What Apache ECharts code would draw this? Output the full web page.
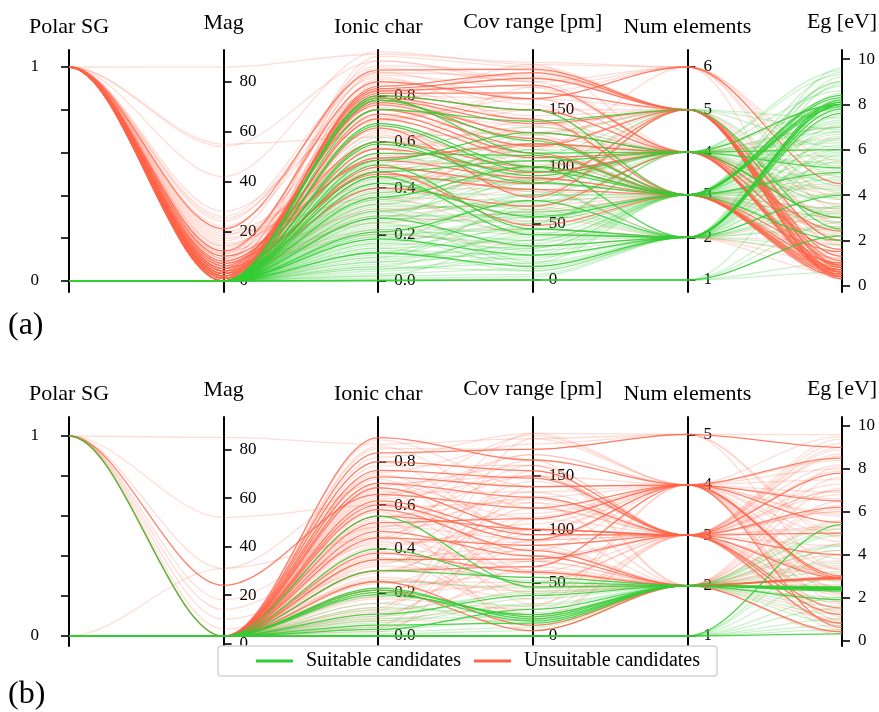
<!DOCTYPE html>
<html><head><meta charset="utf-8">
<script src="https://cdn.jsdelivr.net/npm/echarts@6/dist/echarts.min.js"></script>
<style>html,body{margin:0;padding:0;background:#fff}#c{width:879px;height:712px}</style>
</head><body><div id="c"></div>
<script>
// ---------------- data ----------------
const dimensions = ['Polar SG', 'Mag', 'Ionic char', 'Cov range [pm]', 'Num elements', 'Eg [eV]'];
const polarTicks = [0, 0.2, 0.4, 0.6, 0.8, 1];
const polarLabels = [0, 1];
const magTicks = [0, 20, 40, 60, 80];
const ionicTicks = [0, 0.2, 0.4, 0.6, 0.8];
const covTicks = [0, 50, 100, 150];
const numTicksA = [1, 2, 3, 4, 5, 6];
const numTicksB = [1, 2, 3, 4, 5];
const egTicks = [0, 2, 4, 6, 8, 10];

// rows: [Polar SG, Mag, Ionic char, Cov range, Num elements, Eg]
const unsuitableStrongA = [
  [1,0,0.84,183,5,0.4],[1,1,0.83,178,5,0.6],[1,2,0.82,172,4,0.9],[1,3,0.81,165,5,0.3],
  [1,1,0.80,150,4,0.5],[1,5,0.79,142,3,0.8],[1,0,0.78,138,5,1.1],[1,2,0.77,130,4,1.6],
  [1,4,0.76,125,3,0.6],[1,6,0.74,118,5,2.0],[1,0,0.72,112,3,0.4],[1,3,0.70,108,4,0.7],
  [1,21,0.91,186,5,1.3],[1,8,0.60,100,3,1.0],[1,2,0.57,95,4,3.0],[1,10,0.52,90,3,0.5],
  [1,1,0.49,85,5,0.8],[1,5,0.46,80,3,1.5],[1,3,0.40,65,4,0.6],[1,12,0.86,160,6,4.5],
  [1,0,0.66,73,5,0.9],[1,7,0.53,120,4,2.4],[1,4,0.47,48,3,0.7]
];
const unsuitableFaintA = [
  [1,86,0.98,192,6,4.8],[1,55,0.62,130,5,3.5],[1,54,0.95,175,4,6.0],[1,42,0.99,190,6,5.2],
  [1,26,0.90,160,5,2.8],[1,24,0.88,140,4,3.2],[1,18,0.93,185,5,1.8],[1,16,0.72,150,3,2.5],
  [1,14,0.65,120,4,4.0],[1,12,0.42,110,3,1.2],[1,10,0.35,95,5,0.9],[1,9,0.30,80,2,2.0],
  [1,8,0.58,170,6,3.8],[1,7,0.25,60,3,0.6],[1,6,0.22,45,2,1.4],[1,5,0.97,188,5,0.5],
  [1,4,0.85,100,4,0.4],[1,3,0.68,75,5,1.0],[1,2,0.55,140,3,0.7],[1,1,0.44,135,4,2.2],
  [1,0,0.38,120,5,0.3],[1,20,0.50,105,3,3.0],[1,22,0.80,160,4,0.8],[1,28,0.75,115,6,5.5],
  [1,15,0.47,55,2,1.0],[1,11,0.63,88,4,1.6],[1,13,0.78,130,5,0.5],[1,3,0.28,70,3,2.6],
  [1,2,0.33,90,4,1.1],[1,6,0.90,180,5,0.6],[1,1,0.87,155,3,0.9],[1,4,0.83,145,5,1.3],
  [1,9,0.71,125,4,3.6],[1,5,0.60,112,3,0.4],[1,7,0.52,98,5,2.0],[1,0,0.45,92,4,0.7],
  [1,8,0.40,85,3,4.4],[1,10,0.77,190,4,1.9],[1,12,0.69,165,6,0.8],[1,3,0.95,178,5,2.7],
  [1,17,0.57,62,3,5.0],[1,19,0.36,40,2,0.5],[1,2,0.79,108,3,3.4],[1,0,0.64,102,4,0.6],
  [1,5,0.74,136,5,1.0],[1,1,0.50,78,3,1.8],[1,6,0.20,30,2,3.0],[1,11,0.89,170,4,7.0],
  [1,4,0.31,66,3,0.3],[1,3,0.60,150,5,4.1],[1,25,0.82,182,5,0.4],[1,14,0.54,118,4,2.3],
  [1,2,0.27,52,3,1.2],[1,9,0.92,175,6,3.3],[1,7,0.66,94,4,6.5],[1,0,0.80,128,3,0.5],
  [1,1,0.70,160,4,8.0]
];
const suitableStrongA = [
  [0,0,0.80,150,3,8.1],[0,0,0.79,112,4,8.0],[0,0,0.78,123,3,7.9],[0,0,0.68,100,2,8.2],
  [0,0,0.67,96,3,8.0],[0,0,0.60,92,4,6.0],[0,0,0.55,110,3,8.3],[0,0,0.50,45,2,8.0],
  [0,0,0.45,40,2,7.8],[0,0,0.36,100,3,5.0],[0,0,0.27,30,2,8.1],[0,0,0.18,22,2,4.0],
  [0,0,0.00,0,1,2.2],[0,0,0.52,130,4,3.0],[0,0,0.59,86,3,2.0],[0,0,0.42,56,3,8.4],
  [0,0,0.21,70,2,7.6],[0,0,0.12,12,2,8.0],[0,0,0.47,105,4,5.2],[0,0,0.74,140,5,2.5]
];
const suitableFaintA = [
  [0,0,0.02,5,2,6.5],[0,0,0.03,10,2,9.2],[0,0,0.05,15,3,7.0],[0,0,0.06,8,2,5.5],
  [0,0,0.08,25,3,4.5],[0,0,0.10,30,2,9.6],[0,0,0.12,18,3,6.2],[0,0,0.14,35,2,3.5],
  [0,0,0.15,45,3,8.8],[0,0,0.17,50,4,4.2],[0,0,0.19,12,2,2.5],[0,0,0.22,60,3,7.2],
  [0,0,0.24,40,2,5.0],[0,0,0.26,75,4,6.8],[0,0,0.28,55,3,3.0],[0,0,0.30,85,3,9.0],
  [0,0,0.32,65,2,4.8],[0,0,0.34,95,4,3.8],[0,0,0.36,70,3,6.0],[0,0,0.38,105,3,2.8],
  [0,0,0.40,80,2,7.5],[0,0,0.43,115,4,4.6],[0,0,0.00,0,1,1.0],[0,0,0.00,0,1,3.5],
  [0,0,0.00,0,1,5.8],[0,0,0.00,0,1,0.6],[0,0,0.00,0,1,2.8],[0,0,0.04,20,2,1.5],
  [0,0,0.07,28,3,2.0],[0,0,0.09,38,2,3.2],[0,0,0.11,48,4,5.3],[0,0,0.13,22,3,8.0],
  [0,0,0.16,58,2,6.6],[0,0,0.20,32,3,4.0],[0,0,0.23,68,4,7.8],[0,0,0.25,14,2,3.3],
  [0,0,0.29,90,3,5.6],[0,0,0.31,42,2,8.5],[0,0,0.33,100,5,4.4],[0,0,0.35,52,3,2.2],
  [0,0,0.37,120,4,6.4],[0,0,0.39,62,2,1.8],[0,0,0.41,125,3,5.1],[0,0,0.44,88,4,3.6],
  [0,0,0.48,110,5,6.9],[0,0,0.53,98,3,4.9],[0,0,0.57,135,4,3.1],[0,0,0.62,78,2,2.6],
  [0,0,0.01,3,2,4.1],[0,0,0.06,44,3,9.4],[0,0,0.18,75,3,3.9],[0,0,0.21,26,2,5.9],
  [0,0,0.27,108,4,2.4],[0,0,0.30,16,2,7.1],[0,0,0.02,35,3,5.2],[0,0,0.10,66,4,6.3],
  [0,0,0.33,60,3,9.0],[0,0,0.45,85,4,8.6],[0,0,0.38,75,3,7.7],[0,0,0.27,50,4,9.3],
  [0,0,0.51,120,4,7.0],[0,0,0.22,35,3,6.7],[0,0,0.16,28,3,8.2],[0,0,0.42,95,4,5.7],
  [0,0,0.30,70,5,6.1],[0,0,0.19,55,3,4.7],[0,0,0.25,88,4,9.5],[0,0,0.08,40,3,7.3],
  [0,0,0.35,115,3,6.8],[0,0,0.12,62,4,5.4],[0,0,0.40,100,3,4.3],[0,0,0.05,22,2,8.9],
  [0,0,0.20,45,2,6.0],[0,0,0.28,58,3,3.4],[0,0,0.47,128,5,7.4],[0,0,0.14,8,2,7.9]
];

const unsuitableStrongB = [
  [0,3,0.91,165,4,6.5],[0,3,0.76,148,3,5.0],[0,3,0.73,140,4,2.9],[0,3,0.68,100,3,7.8],
  [1,24,0.65,120,4,3.0],[0,3,0.62,95,3,2.9],[0,3,0.58,80,2,2.95],[0,3,0.45,85,3,1.2],
  [0,3,0.38,60,2,2.9],[0,3,0.30,65,4,8.5],[0,3,0.21,5,2,2.9],[0,3,0.84,175,5,9.0],
  [0,3,0.52,110,4,0.6],[0,3,0.70,130,3,4.0],[0,3,0.48,75,2,2.85],[1,3,0.80,155,3,1.5],
  [0,3,0.25,10,2,0.4],[0,3,0.60,90,4,5.5],[0,3,0.35,72,3,6.2],[0,3,0.55,100,3,0.8]
];
const unsuitableFaintB = [
  [1,85,0.88,185,5,9.6],[1,52,0.60,170,4,8.0],[0,31,0.70,150,3,7.0],[1,31,0.45,190,5,3.3],
  [1,18,0.50,130,3,6.0],[1,14,0.42,100,4,2.2],[1,10,0.30,70,2,4.5],[1,6,0.25,50,3,8.7],
  [1,3,0.35,85,2,1.0],[0,3,0.90,140,4,7.5],[0,3,0.87,120,3,6.8],[0,3,0.82,190,4,5.8],
  [0,3,0.80,95,3,9.2],[0,3,0.78,160,2,3.5],[0,3,0.75,180,5,4.8],[0,3,0.72,60,3,8.2],
  [0,3,0.70,110,4,1.8],[0,3,0.67,45,2,6.5],[0,3,0.66,135,3,2.5],[0,3,0.64,170,4,0.9],
  [0,3,0.61,75,3,7.3],[0,3,0.59,125,2,4.2],[0,3,0.57,30,3,9.4],[0,3,0.54,150,4,3.8],
  [0,3,0.51,90,3,5.2],[0,3,0.49,115,4,6.9],[0,3,0.46,40,2,0.3],[0,3,0.44,160,3,8.9],
  [0,3,0.41,105,4,2.7],[0,3,0.39,20,2,3.4],[0,3,0.37,145,3,0.5],[0,3,0.34,80,4,5.9],
  [0,3,0.32,55,2,1.4],[0,3,0.29,120,3,7.9],[0,3,0.27,35,4,4.6],[0,3,0.24,95,3,2.1],
  [0,3,0.22,60,2,6.3],[0,3,0.19,130,4,8.4],[0,3,0.17,25,3,3.1],[0,3,0.15,70,2,5.6],
  [0,3,0.13,185,4,1.1],[0,3,0.11,50,3,9.0],[0,3,0.09,100,2,4.0],[0,3,0.07,15,3,6.1],
  [0,3,0.05,140,4,2.4],[0,3,0.04,65,2,7.1],[0,3,0.02,110,3,0.7],[0,3,0.86,175,5,5.0],
  [0,3,0.63,150,3,1.7],[0,3,0.53,5,2,3.7],[0,3,0.43,88,4,9.5],[0,3,0.33,125,3,4.4],
  [0,3,0.26,42,2,2.6],[0,3,0.74,98,4,6.6],[0,3,0.69,160,3,3.0],[0,3,0.58,58,2,8.1],
  [0,3,0.47,135,4,1.3],[0,3,0.36,18,3,5.3],[0,3,0.18,82,2,7.6],[0,3,0.12,155,3,2.2],
  [0,3,0.08,28,4,4.9],[0,3,0.50,165,2,0.4],[0,3,0.40,70,3,6.0],[0,3,0.30,112,4,3.3],
  [0,3,0.20,48,2,1.9],[0,3,0.10,90,3,8.6],[0,3,0.65,188,4,2.8],[0,3,0.55,128,3,7.0],
  [0,3,0.45,62,2,5.4]
];
const suitableStrongB = [
  [1,3,0.21,18,2,2.4],[0,3,0.22,16,2,2.45],[0,3,0.20,14,2,2.35],[0,3,0.19,20,2,2.5],
  [0,3,0.10,38,2,2.4],[0,3,0.40,50,2,2.3],[0,3,0.30,55,2,2.4],[0,3,0.05,12,2,2.45],
  [0,3,0.00,0,1,5.4],[0,3,0.00,0,1,0.3],[0,3,0.55,46,2,1.9],[0,3,0.03,25,2,2.4]
];
const suitableFaintB = [
  [0,3,0.02,8,2,5.5],[0,3,0.04,22,2,5.2],[0,3,0.06,30,2,4.9],[0,3,0.08,18,2,4.4],
  [0,3,0.12,40,2,3.6],[0,3,0.15,10,2,1.6],[0,3,0.18,28,2,1.2],[0,3,0.25,45,2,2.0],
  [0,3,0.00,0,1,4.5],[0,3,0.00,0,1,4.0],[0,3,0.00,0,1,3.0],[0,3,0.00,0,1,2.0],
  [0,3,0.00,0,1,1.5],[0,3,0.00,0,1,1.0],[0,3,0.00,0,1,0.7],[0,3,0.00,0,1,0.5],
  [0,3,0.35,52,2,3.2],[0,3,0.01,5,2,0.8],[0,3,0.07,35,2,2.8],[0,3,0.13,20,2,4.2],
  [0,3,0.03,15,2,1.8],[0,3,0.09,42,2,5.0]
];

// ---------------- chart ----------------
const GREEN = '#32CD32', RED = '#FF6347';
const FONT = 'Liberation Serif';
const chart = echarts.init(document.getElementById('c'), null, {renderer: 'canvas'});

const grids = [
  {left: 69, right: 37, top: 50, height: 242},
  {left: 69, right: 37, top: 417, height: 229}
];
const extents = [
  [[-0.0514, 1.0794], [-4.42, 92.86], [-0.0498, 0.9974], [-10.59, 202.9], [0.718, 6.399], [-0.278, 10.40]],
  [[-0.05, 1.095], [-0.99, 93.44], [-0.0459, 1.0046], [-9.375, 205.3], [0.8016, 5.345], [-0.266, 10.42]]
];
const nameGaps = [12, 16, 12, 17, 12, 17];
const GAP = (879 - 69 - 37) / 5;

function yAx(p, k) {
  const ticks = [polarTicks, magTicks, ionicTicks, covTicks, p === 0 ? numTicksA : numTicksB, egTicks][k];
  const labels = k === 0 ? polarLabels : ticks;
  return {
    type: 'value', gridIndex: p, min: extents[p][k][0], max: extents[p][k][1],
    position: k === 0 ? 'left' : 'right',
    offset: k === 0 ? 0 : -(5 - k) * GAP,
    name: dimensions[k], nameLocation: 'end', nameGap: nameGaps[k],
    nameTextStyle: {fontFamily: FONT, fontSize: 22, color: '#000'},
    axisLine: {show: true, onZero: false, lineStyle: {color: '#000', width: 2}},
    axisTick: {show: true, length: 8, customValues: ticks, lineStyle: {color: '#000', width: 1.6}},
    axisLabel: {
      show: true, customValues: labels, margin: k === 0 ? 30 : 16,
      fontFamily: FONT, fontSize: 17, color: '#000',
      formatter: v => k === 2 ? Number(v).toFixed(1) : String(Math.round(v))
    },
    splitLine: {show: false}, splitArea: {show: false}
  };
}

const xAxes = [0, 1].map(p => ({type: 'category', gridIndex: p, data: dimensions, boundaryGap: false, show: false}));
const yAxes = [];
for (let p = 0; p < 2; p++) for (let k = 0; k < 6; k++) yAxes.push(yAx(p, k));

function makeSeries(name, rows, color, opacity, p) {
  return {
    type: 'custom', name: name, coordinateSystem: 'none', silent: true, animation: false,
    itemStyle: {color: color},
    data: rows,
    renderItem: function (params, api) {
      const pts = [];
      for (let k = 0; k < 6; k++) {
        const x = chart.convertToPixel({xAxisIndex: p}, k);
        const y = chart.convertToPixel({yAxisIndex: p * 6 + k}, api.value(k));
        pts.push([x, y]);
      }
      let d = 'M' + pts[0][0] + ' ' + pts[0][1];
      for (let k = 0; k < 5; k++) {
        const dx = (pts[k + 1][0] - pts[k][0]) / 3;
        d += ' C' + (pts[k][0] + dx) + ' ' + pts[k][1] + ' ' + (pts[k + 1][0] - dx) + ' ' + pts[k + 1][1] + ' ' + pts[k + 1][0] + ' ' + pts[k + 1][1];
      }
      return {type: 'path', shape: {pathData: d}, style: {stroke: color, fill: 'none', lineWidth: 1.3, opacity: opacity}, silent: true};
    }
  };
}

const S = 'Suitable candidates', U = 'Unsuitable candidates';
const series = [
  makeSeries(U, unsuitableFaintA, RED, 0.22, 0),
  makeSeries(S, suitableFaintA, GREEN, 0.25, 0),
  makeSeries(U, unsuitableStrongA, RED, 0.8, 0),
  makeSeries(S, suitableStrongA, GREEN, 0.85, 0),
  makeSeries(U, unsuitableFaintB, RED, 0.22, 1),
  makeSeries(S, suitableFaintB, GREEN, 0.25, 1),
  makeSeries(U, unsuitableStrongB, RED, 0.8, 1),
  makeSeries(S, suitableStrongB, GREEN, 0.85, 1)
];

chart.setOption({
  backgroundColor: '#fff',
  animation: false,
  title: [
    {text: '(a)', left: 8, top: 310, padding: 0, textStyle: {fontFamily: FONT, fontSize: 32, fontWeight: 'normal', color: '#000'}},
    {text: '(b)', left: 8, top: 679, padding: 0, textStyle: {fontFamily: FONT, fontSize: 32, fontWeight: 'normal', color: '#000'}}
  ],
  legend: {
    data: [{name: S, itemStyle: {color: GREEN, opacity: 1}}, {name: U, itemStyle: {color: RED, opacity: 1}}],
    left: 218, top: 646, orient: 'horizontal', selectedMode: false,
    icon: 'rect', itemWidth: 37, itemHeight: 3, itemGap: 13,
    padding: [5, 17, 5, 38],
    backgroundColor: '#fff', borderColor: '#d3d3d3', borderWidth: 1.5, borderRadius: 3,
    textStyle: {fontFamily: FONT, fontSize: 20, color: '#000', padding: [0, 0, 0, 8]}
  },
  grid: grids.map(g => Object.assign({containLabel: false, outerBoundsMode: 'none'}, g)),
  xAxis: xAxes,
  yAxis: yAxes,
  series: series
});
</script>
</body></html>
